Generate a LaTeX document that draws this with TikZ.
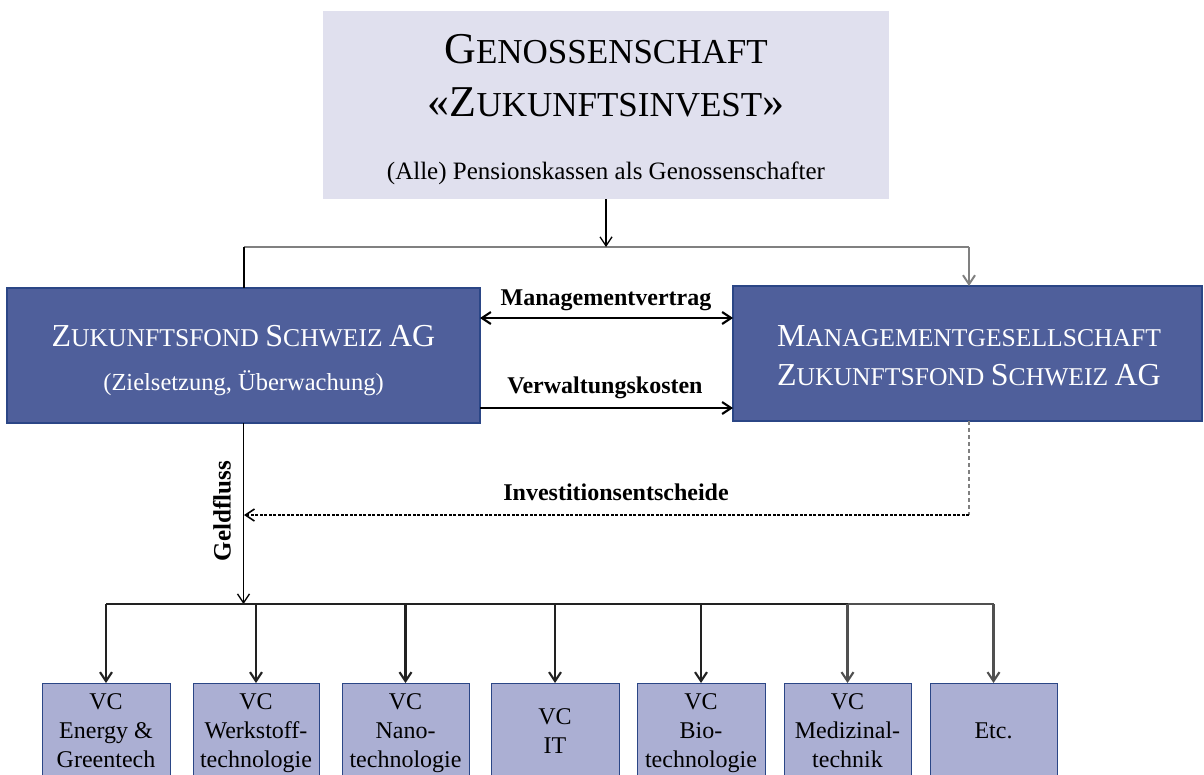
\documentclass[tikz,border=0pt]{standalone}
\usepackage{fontspec}
\setmainfont{Liberation Serif}
\usetikzlibrary{arrows.meta}
\definecolor{topfill}{HTML}{E0E0EE}
\definecolor{bluefill}{HTML}{4F5F9B}
\definecolor{blueedge}{HTML}{2B4686}
\definecolor{vcfill}{HTML}{ABAFD3}
\definecolor{graylink}{HTML}{808080}
\definecolor{darklink}{HTML}{222222}
\definecolor{midlink}{HTML}{505050}
\newcommand\fsz[1]{\fontsize{#1}{#1}\selectfont}
\begin{document}
\begin{tikzpicture}[x=1pt,y=-1pt,
  every node/.style={inner sep=0pt, outer sep=0pt},
  topbox/.style={fill=topfill, draw=none, minimum width=566pt, minimum height=188pt},
  bluebox/.style={fill=bluefill, draw=blueedge, line width=1.5pt, minimum height=135pt},
  vcbox/.style={fill=vcfill, draw=blueedge, line width=0.9pt, minimum height=140pt, anchor=north},
  lbl/.style={font=\fsz{24}\bfseries, anchor=base},
  wtxt/.style={text=white, anchor=base},
  vctxt/.style={font=\fsz{24}, anchor=base},
  tip/.style={-{Straight Barb[length=9pt,width=12pt]}},
  thin/.style={line width=1.3pt, black},
  mid/.style={line width=2.1pt, black}
]
\useasboundingbox (0,0) rectangle (1204,774);
\clip (0,0) rectangle (1204,774);

% top box
\node[topbox] (top) at (606,105) {};
\node[anchor=base] (t1) at (606,63) {\fsz{44}G\fsz{35}ENOSSENSCHAFT};
\node[anchor=base] (t2) at (606,116) {\fsz{44}«Z\fsz{35}UKUNFTSINVEST\fsz{44}»};
\node[anchor=base, font=\fsz{25}] (t3) at (606,179) {(Alle) Pensionskassen als Genossenschafter};

% blue boxes
\node[bluebox, minimum width=473pt] (lbox) at (243.5,355.5) {};
\node[wtxt] (l1) at (243.5,346) {\fsz{32}Z\fsz{25.6}UKUNFTSFOND \fsz{32}S\fsz{25.6}CHWEIZ \fsz{32}AG};
\node[wtxt, font=\fsz{24.5}] (l2) at (243.5,390) {(Zielsetzung, Überwachung)};

\node[bluebox, minimum width=469pt] (rbox) at (967.5,353.5) {};
\node[wtxt] (r1) at (969,346) {\fsz{32}M\fsz{25.6}ANAGEMENTGESELLSCHAFT};
\node[wtxt] (r2) at (969,385) {\fsz{32}Z\fsz{25.6}UKUNFTSFOND \fsz{32}S\fsz{25.6}CHWEIZ \fsz{32}AG};

% VC boxes
\node[vcbox, minimum width=128pt] (b1) at (106,683) {};
\node[vcbox, minimum width=126pt] (b2) at (256,683) {};
\node[vcbox, minimum width=127pt] (b3) at (405.5,683) {};
\node[vcbox, minimum width=128pt] (b4) at (555,683) {};
\node[vcbox, minimum width=128pt] (b5) at (701,683) {};
\node[vcbox, minimum width=127pt] (b6) at (847.5,683) {};
\node[vcbox, minimum width=127pt] (b7) at (993.5,683) {};

\node[vctxt] (b1a) at (106,709) {VC};
\node[vctxt] (b1b) at (106,738) {Energy \&};
\node[vctxt] (b1c) at (106,767) {Greentech};
\node[vctxt] (b2a) at (256,709) {VC};
\node[vctxt] (b2b) at (256,738) {Werkstoff-};
\node[vctxt] (b2c) at (256,767) {technologie};
\node[vctxt] (b3a) at (405.5,709) {VC};
\node[vctxt] (b3b) at (405.5,738) {Nano-};
\node[vctxt] (b3c) at (405.5,767) {technologie};
\node[vctxt] (b4a) at (555,724) {VC};
\node[vctxt] (b4b) at (555,753) {IT};
\node[vctxt] (b5a) at (701,709) {VC};
\node[vctxt] (b5b) at (701,738) {Bio-};
\node[vctxt] (b5c) at (701,767) {technologie};
\node[vctxt] (b6a) at (847.5,709) {VC};
\node[vctxt] (b6b) at (847.5,738) {Medizinal-};
\node[vctxt] (b6c) at (847.5,767) {technik};
\node[vctxt] (b7a) at (993.5,738) {Etc.};

% connectors from top
\coordinate (hl) at (244,247);
\coordinate (hr) at (969,247);
\coordinate (hm) at (606,247);
\draw[graylink, line width=2.4pt] (hl) -- (hr);
\draw[thin, tip] (top.south) -- (hm);
\draw[mid] (hl) -- (hl |- lbox.north);
\draw[graylink, line width=2pt, tip] (hr) -- (hr |- rbox.north);

% management arrows
\coordinate (mv) at (0,318);
\coordinate (vk) at (0,408);
\draw[mid, {Straight Barb[length=9pt,width=12pt]}-{Straight Barb[length=9pt,width=12pt]}] (lbox.east |- mv) -- (rbox.west |- mv);
\draw[mid, tip] (lbox.east |- vk) -- (rbox.west |- vk);
\node[lbl] (mvl) at (606,305) {Managementvertrag};
\node[lbl] (vkl) at (605,393) {Verwaltungskosten};

% investment decisions (dashed)
\coordinate (ds) at (244,515);
\draw[graylink, line width=1.8pt, dash pattern=on 4pt off 3pt] (hr |- rbox.south) -- (hr |- ds);
\draw[black, line width=1.6pt, dash pattern=on 3pt off 1.5pt, tip] (hr |- ds) -- (ds);
\node[lbl] (isl) at (616,500) {Investitionsentscheide};

% money flow
\coordinate (gf) at (243.5,604);
\draw[thin, tip] (lbox.south) -- (gf);
\node[font=\fsz{25}\bfseries, rotate=90] (gfl) at (222,511) {Geldfluss};

% fan to VC boxes
\coordinate (fl) at (106,604);
\coordinate (fr) at (993.5,604);
\coordinate (fm) at (847.5,604);
\draw[darklink, line width=2.1pt] (fl) -- (fm);
\draw[midlink, line width=2.1pt] (fm) -- (fr);
\foreach \b in {b1,b2,b3,b4,b5}{
  \draw[darklink, line width=2.1pt, tip] (\b.north |- fl) -- (\b.north);
}
\foreach \b in {b6,b7}{
  \draw[midlink, line width=2.1pt, tip] (\b.north |- fl) -- (\b.north);
}
\end{tikzpicture}
\end{document}
